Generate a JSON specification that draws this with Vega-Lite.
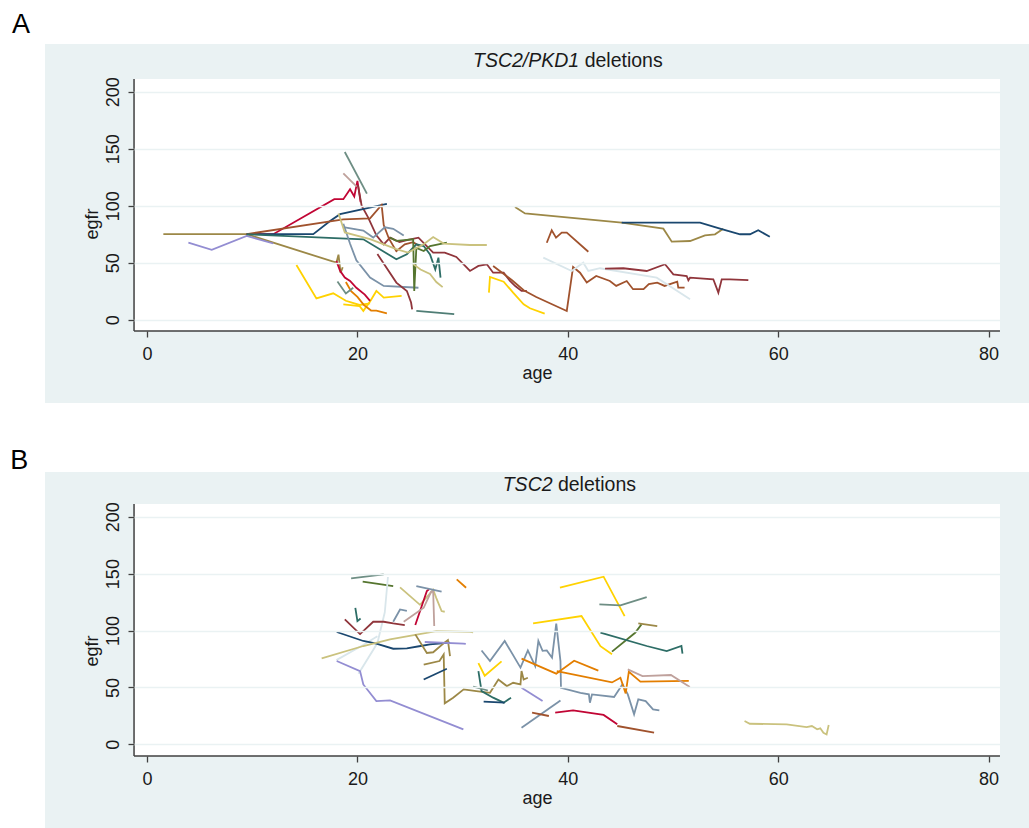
{
"$schema":"https://vega.github.io/schema/vega-lite/v6.json",
"background":"white",
"padding":{"left":10,"top":10,"right":0,"bottom":0},
"autosize":{"type":"pad"},
"bounds":"flush",
"spacing":69,
"resolve":{"scale":{"x":"independent","y":"independent","color":"shared"}},
"config":{"view":{"fill":"#eaf2f3","stroke":null},"font":"Liberation Sans"},
"datasets":{
"a":[
{"id":"a01","age":1.55,"egfr":75},{"id":"a01","age":9.47,"egfr":75},{"id":"a01","age":18.0,"egfr":50},{"id":"a01","age":18.2,"egfr":57},{"id":"a01","age":18.4,"egfr":41},{"id":"a01","age":18.6,"egfr":46},
{"id":"a02","age":3.93,"egfr":67.5},{"id":"a02","age":6.15,"egfr":61.2},{"id":"a02","age":9.47,"egfr":73.5},{"id":"a02","age":12.0,"egfr":66.8},
{"id":"a03","age":9.47,"egfr":75},{"id":"a03","age":12.0,"egfr":75},{"id":"a03","age":17.8,"egfr":105.7},{"id":"a03","age":18.66,"egfr":105.7},{"id":"a03","age":19.3,"egfr":114.4},{"id":"a03","age":19.7,"egfr":108},{"id":"a03","age":20.0,"egfr":121.7},{"id":"a03","age":20.3,"egfr":103},
{"id":"a04","age":20.05,"egfr":118},{"id":"a04","age":20.4,"egfr":100},{"id":"a04","age":21.0,"egfr":90},{"id":"a04","age":21.8,"egfr":74},{"id":"a04","age":22.5,"egfr":66},{"id":"a04","age":23.1,"egfr":71.9},{"id":"a04","age":24.0,"egfr":68},{"id":"a04","age":24.8,"egfr":70},{"id":"a04","age":25.8,"egfr":71.9},{"id":"a04","age":27.2,"egfr":58.8},{"id":"a04","age":28.3,"egfr":58.8},{"id":"a04","age":29.4,"egfr":55},{"id":"a04","age":30.4,"egfr":45.6},{"id":"a04","age":30.7,"egfr":42.7},{"id":"a04","age":31.5,"egfr":47.1},{"id":"a04","age":32.3,"egfr":48.6},{"id":"a04","age":32.9,"egfr":41.2},{"id":"a04","age":33.9,"egfr":41.2},{"id":"a04","age":34.5,"egfr":33.9},{"id":"a04","age":35.0,"egfr":29.5},{"id":"a04","age":35.6,"egfr":25.2},{"id":"a04","age":36.1,"egfr":25.2},
{"id":"a05","age":9.47,"egfr":75},{"id":"a05","age":15.8,"egfr":75},{"id":"a05","age":17.4,"egfr":86.6},{"id":"a05","age":18.35,"egfr":92.5},{"id":"a05","age":22.8,"egfr":101.6},
{"id":"a06","age":9.47,"egfr":75},{"id":"a06","age":18.66,"egfr":88},{"id":"a06","age":21.2,"egfr":88.9},{"id":"a06","age":22.3,"egfr":100.6},{"id":"a06","age":22.5,"egfr":83},{"id":"a06","age":23.0,"egfr":71},{"id":"a06","age":23.7,"egfr":60},{"id":"a06","age":24.5,"egfr":66},{"id":"a06","age":25.3,"egfr":68},{"id":"a06","age":26.0,"egfr":64},
{"id":"a07","age":9.47,"egfr":74.9},{"id":"a07","age":20.56,"egfr":70.5},{"id":"a07","age":23.7,"egfr":53},{"id":"a07","age":24.7,"egfr":57.4},{"id":"a07","age":25.6,"egfr":66.1},{"id":"a07","age":26.3,"egfr":64.6},{"id":"a07","age":26.9,"egfr":57.3},{"id":"a07","age":27.4,"egfr":44.1},{"id":"a07","age":27.7,"egfr":54.4},{"id":"a07","age":27.9,"egfr":36.9},
{"id":"a08","age":18.8,"egfr":147.1},{"id":"a08","age":20.9,"egfr":110.6},
{"id":"a09","age":18.66,"egfr":128.4},{"id":"a09","age":19.93,"egfr":116.7},
{"id":"a10","age":18.66,"egfr":84.1},{"id":"a10","age":19.3,"egfr":66.6},{"id":"a10","age":19.9,"egfr":52},{"id":"a10","age":21.2,"egfr":37},{"id":"a10","age":22.5,"egfr":29.6},{"id":"a10","age":25.8,"egfr":28},
{"id":"a11","age":18.66,"egfr":81.2},{"id":"a11","age":20.56,"egfr":78.2},{"id":"a11","age":21.5,"egfr":72},{"id":"a11","age":22.6,"egfr":81},{"id":"a11","age":23.4,"egfr":79.7},{"id":"a11","age":24.4,"egfr":73.8},
{"id":"a12","age":23.1,"egfr":72},{"id":"a12","age":23.7,"egfr":69.1},{"id":"a12","age":25.3,"egfr":70.5},{"id":"a12","age":25.4,"egfr":25.2},{"id":"a12","age":25.6,"egfr":63},{"id":"a12","age":26.3,"egfr":60.2},{"id":"a12","age":26.9,"egfr":64.6},{"id":"a12","age":28.5,"egfr":67.5},
{"id":"a13","age":21.9,"egfr":57.5},{"id":"a13","age":23.7,"egfr":32.5},{"id":"a13","age":24.7,"egfr":25.2},{"id":"a13","age":25.1,"egfr":15},{"id":"a13","age":25.2,"egfr":9.1},
{"id":"a14","age":18.2,"egfr":93.2},{"id":"a14","age":18.8,"egfr":76.5},{"id":"a14","age":21.2,"egfr":70.6},{"id":"a14","age":23.7,"egfr":61.8},{"id":"a14","age":24.8,"egfr":58.8},{"id":"a14","age":26.3,"egfr":66.1},{"id":"a14","age":27.2,"egfr":72.5},{"id":"a14","age":28.2,"egfr":66.7},{"id":"a14","age":30.7,"egfr":65.5},{"id":"a14","age":32.3,"egfr":65.5},
{"id":"a15","age":25.3,"egfr":48.7},{"id":"a15","age":26.0,"egfr":44},{"id":"a15","age":26.9,"egfr":40},{"id":"a15","age":27.5,"egfr":33},{"id":"a15","age":28.1,"egfr":28.5},
{"id":"a16","age":14.2,"egfr":47.9},{"id":"a16","age":16.1,"egfr":18.7},{"id":"a16","age":17.7,"egfr":23.1},{"id":"a16","age":18.9,"egfr":16.6},{"id":"a16","age":20.2,"egfr":12.9},{"id":"a16","age":21.2,"egfr":14.3},
{"id":"a17","age":18.66,"egfr":13.5},{"id":"a17","age":20.2,"egfr":12},{"id":"a17","age":20.56,"egfr":7.7},{"id":"a17","age":21.2,"egfr":16},{"id":"a17","age":21.8,"egfr":25.2},{"id":"a17","age":22.5,"egfr":19.4},{"id":"a17","age":24.2,"egfr":20.8},
{"id":"a18","age":18.9,"egfr":33},{"id":"a18","age":19.4,"egfr":25},{"id":"a18","age":20.0,"egfr":20},{"id":"a18","age":20.6,"egfr":13},{"id":"a18","age":21.3,"egfr":8},{"id":"a18","age":21.8,"egfr":8},{"id":"a18","age":22.8,"egfr":5.5},
{"id":"a19","age":18.0,"egfr":51.6},{"id":"a19","age":18.35,"egfr":42.8},{"id":"a19","age":18.8,"egfr":37},{"id":"a19","age":19.3,"egfr":34},{"id":"a19","age":19.9,"egfr":28},{"id":"a19","age":20.7,"egfr":22},{"id":"a19","age":21.2,"egfr":16.5},
{"id":"a20","age":25.6,"egfr":7.7},{"id":"a20","age":29.2,"egfr":4.8},
{"id":"a21","age":18.1,"egfr":33.5},{"id":"a21","age":18.9,"egfr":23},{"id":"a21","age":19.6,"egfr":28},
{"id":"a22","age":32.5,"egfr":23.7},{"id":"a22","age":32.6,"egfr":37.5},{"id":"a22","age":33.9,"egfr":33.3},{"id":"a22","age":34.8,"egfr":23.7},{"id":"a22","age":35.8,"egfr":13.5},{"id":"a22","age":36.4,"egfr":10},{"id":"a22","age":37.8,"egfr":5.3},
{"id":"a23","age":32.9,"egfr":47.1},{"id":"a23","age":34.7,"egfr":34.6},{"id":"a23","age":35.8,"egfr":25.8},{"id":"a23","age":37.0,"egfr":19.9},{"id":"a23","age":38.5,"egfr":13.5},{"id":"a23","age":39.9,"egfr":7.6},{"id":"a23","age":40.5,"egfr":46.2},{"id":"a23","age":41.16,"egfr":41.2},{"id":"a23","age":41.8,"egfr":32.5},{"id":"a23","age":42.7,"egfr":38.3},{"id":"a23","age":44.0,"egfr":33.9},{"id":"a23","age":44.6,"egfr":29.6},{"id":"a23","age":45.6,"egfr":33.9},{"id":"a23","age":46.2,"egfr":26.7},{"id":"a23","age":47.2,"egfr":26.7},{"id":"a23","age":47.7,"egfr":31.1},{"id":"a23","age":48.5,"egfr":32.5},{"id":"a23","age":49.2,"egfr":29.6},{"id":"a23","age":50.4,"egfr":33.3},{"id":"a23","age":50.5,"egfr":28.1},{"id":"a23","age":51.1,"egfr":28.1},
{"id":"a24","age":34.98,"egfr":98.9},{"id":"a24","age":35.93,"egfr":93.2},{"id":"a24","age":45.12,"egfr":85.1},{"id":"a24","age":49.08,"egfr":79.8},{"id":"a24","age":49.88,"egfr":68.4},{"id":"a24","age":51.62,"egfr":69},{"id":"a24","age":53.04,"egfr":74},{"id":"a24","age":53.99,"egfr":74.9},{"id":"a24","age":54.78,"egfr":79.8},
{"id":"a25","age":45.12,"egfr":85.1},{"id":"a25","age":52.57,"egfr":85.1},{"id":"a25","age":54.47,"egfr":79.8},{"id":"a25","age":56.37,"egfr":74.9},{"id":"a25","age":57.32,"egfr":74.9},{"id":"a25","age":58.1,"egfr":78.4},{"id":"a25","age":59.2,"egfr":72.8},
{"id":"a26","age":38.0,"egfr":67.5},{"id":"a26","age":38.47,"egfr":78.4},{"id":"a26","age":38.88,"egfr":71.9},{"id":"a26","age":39.42,"egfr":76.3},{"id":"a26","age":39.9,"egfr":76.3},{"id":"a26","age":41.95,"egfr":59.6},
{"id":"a27","age":37.67,"egfr":54.4},{"id":"a27","age":40.37,"egfr":42.7},{"id":"a27","age":41.47,"egfr":50},{"id":"a27","age":41.95,"egfr":42.7},{"id":"a27","age":43.06,"egfr":45.1},{"id":"a27","age":48.45,"egfr":36.8},{"id":"a27","age":51.62,"egfr":17.9},
{"id":"a28","age":43.54,"egfr":44.7},{"id":"a28","age":45.28,"egfr":45.1},{"id":"a28","age":47.5,"egfr":42.7},{"id":"a28","age":49.24,"egfr":48.6},{"id":"a28","age":50.03,"egfr":39.8},{"id":"a28","age":51.3,"egfr":38.3},{"id":"a28","age":51.46,"egfr":34.6},{"id":"a28","age":51.62,"egfr":36.8},{"id":"a28","age":52.57,"egfr":36.3},{"id":"a28","age":53.83,"egfr":35.4},{"id":"a28","age":54.31,"egfr":23.7},{"id":"a28","age":54.63,"egfr":35.4},{"id":"a28","age":55.42,"egfr":35.4},{"id":"a28","age":57.16,"egfr":34.6}
],
"b":[
{"id":"b01","age":19.4,"egfr":145.8},{"id":"b01","age":22.5,"egfr":149.3},
{"id":"b02","age":20.5,"egfr":143},{"id":"b02","age":21.8,"egfr":141.3},{"id":"b02","age":23.4,"egfr":139.1},
{"id":"b03","age":20.1,"egfr":62},{"id":"b03","age":21.9,"egfr":89},{"id":"b03","age":22.6,"egfr":116},{"id":"b03","age":22.9,"egfr":147},
{"id":"b04","age":18.0,"egfr":74},{"id":"b04","age":20.5,"egfr":87},{"id":"b04","age":21.9,"egfr":95},
{"id":"b05","age":18.8,"egfr":109.8},{"id":"b05","age":20.25,"egfr":96.9},{"id":"b05","age":21.5,"egfr":107.7},{"id":"b05","age":22.5,"egfr":107.7},{"id":"b05","age":23.4,"egfr":106.2},{"id":"b05","age":24.5,"egfr":104.8},
{"id":"b06","age":19.8,"egfr":120},{"id":"b06","age":20.0,"egfr":108.3},{"id":"b06","age":20.3,"egfr":110.6},
{"id":"b07","age":18.03,"egfr":98.7},{"id":"b07","age":20.56,"egfr":90.8},{"id":"b07","age":21.8,"egfr":88.5},{"id":"b07","age":23.4,"egfr":84},{"id":"b07","age":24.7,"egfr":84.3},{"id":"b07","age":26.0,"egfr":86.4},{"id":"b07","age":26.9,"egfr":87.8},{"id":"b07","age":28.8,"egfr":89.3},
{"id":"b08","age":16.6,"egfr":75.5},{"id":"b08","age":20.56,"egfr":86.4},{"id":"b08","age":23.1,"egfr":92.2},{"id":"b08","age":27.5,"egfr":99.5},{"id":"b08","age":30.7,"egfr":98.9},{"id":"b08","age":31.0,"egfr":98.5},
{"id":"b09","age":18.03,"egfr":73.2},{"id":"b09","age":20.25,"egfr":64.3},{"id":"b09","age":20.56,"egfr":52.6},{"id":"b09","age":21.8,"egfr":38},{"id":"b09","age":23.1,"egfr":38.6},{"id":"b09","age":30.07,"egfr":13.1},
{"id":"b10","age":25.5,"egfr":96.6},{"id":"b10","age":26.6,"egfr":80.3},{"id":"b10","age":27.2,"egfr":80.9},{"id":"b10","age":28.3,"egfr":89.6},{"id":"b10","age":28.6,"egfr":91.6},{"id":"b10","age":28.8,"egfr":77.5},
{"id":"b11","age":26.3,"egfr":70},{"id":"b11","age":27.8,"egfr":73.2},{"id":"b11","age":28.2,"egfr":79},{"id":"b11","age":28.3,"egfr":36},{"id":"b11","age":29.1,"egfr":41},{"id":"b11","age":30.1,"egfr":48.3},{"id":"b11","age":31.3,"egfr":46.8},{"id":"b11","age":32.6,"egfr":45.3},{"id":"b11","age":33.4,"egfr":57},{"id":"b11","age":34.2,"egfr":51.2},{"id":"b11","age":34.8,"egfr":54.1},{"id":"b11","age":35.5,"egfr":52.7},{"id":"b11","age":35.6,"egfr":64.4},{"id":"b11","age":35.8,"egfr":57},{"id":"b11","age":36.2,"egfr":58.5},
{"id":"b12","age":26.3,"egfr":57},{"id":"b12","age":28.5,"egfr":66.4},
{"id":"b13","age":26.4,"egfr":89.9},{"id":"b13","age":30.07,"egfr":88.5},{"id":"b13","age":30.3,"egfr":88.2},
{"id":"b14","age":24.05,"egfr":137.9},{"id":"b14","age":25.95,"egfr":122.6},{"id":"b14","age":27.2,"egfr":135.8},{"id":"b14","age":27.5,"egfr":128.5},{"id":"b14","age":28.0,"egfr":117.1},{"id":"b14","age":28.3,"egfr":116.5},
{"id":"b15","age":23.4,"egfr":107.7},{"id":"b15","age":24.05,"egfr":118.5},{"id":"b15","age":24.7,"egfr":117.3},
{"id":"b16","age":25.5,"egfr":104.8},{"id":"b16","age":26.6,"egfr":134.7},{"id":"b16","age":26.8,"egfr":136.2},
{"id":"b17","age":24.4,"egfr":107.7},{"id":"b17","age":26.3,"egfr":120},{"id":"b17","age":27.0,"egfr":134},{"id":"b17","age":27.2,"egfr":134.5},{"id":"b17","age":27.3,"egfr":104},
{"id":"b18","age":25.6,"egfr":139.1},{"id":"b18","age":28.0,"egfr":134.1},
{"id":"b19","age":29.44,"egfr":145},{"id":"b19","age":30.33,"egfr":137.6},
{"id":"b20","age":39.25,"egfr":137.6},{"id":"b20","age":43.4,"egfr":147.3},{"id":"b20","age":45.4,"egfr":112.7},
{"id":"b21","age":43.0,"egfr":123},{"id":"b21","age":45.0,"egfr":122.1},{"id":"b21","age":47.5,"egfr":129.4},
{"id":"b22","age":36.7,"egfr":106.2},{"id":"b22","age":41.3,"egfr":112.7},{"id":"b22","age":43.1,"egfr":86.3},{"id":"b22","age":44.2,"egfr":79.1},
{"id":"b23","age":44.2,"egfr":81.5},{"id":"b23","age":46.4,"egfr":98},{"id":"b23","age":47.0,"egfr":105.4},
{"id":"b24","age":46.7,"egfr":106.2},{"id":"b24","age":48.5,"egfr":103.8},
{"id":"b25","age":43.1,"egfr":98.1},{"id":"b25","age":47.5,"egfr":86.4},{"id":"b25","age":49.4,"egfr":82},{"id":"b25","age":50.8,"egfr":86.4},{"id":"b25","age":50.9,"egfr":79.6},
{"id":"b26","age":31.8,"egfr":82.5},{"id":"b26","age":32.6,"egfr":73.2},{"id":"b26","age":34.0,"egfr":90.8},{"id":"b26","age":35.5,"egfr":67.4},{"id":"b26","age":36.2,"egfr":82.5},{"id":"b26","age":36.9,"egfr":68.8},{"id":"b26","age":37.2,"egfr":90.8},{"id":"b26","age":37.6,"egfr":82.1},{"id":"b26","age":38.0,"egfr":82.5},{"id":"b26","age":38.5,"egfr":76.1},{"id":"b26","age":38.9,"egfr":106},{"id":"b26","age":39.3,"egfr":73.2},{"id":"b26","age":39.35,"egfr":49.7},{"id":"b26","age":41.2,"egfr":45.3},{"id":"b26","age":42.0,"egfr":43.9},{"id":"b26","age":42.1,"egfr":36.6},{"id":"b26","age":42.3,"egfr":43.9},{"id":"b26","age":44.4,"egfr":41.6},{"id":"b26","age":45.2,"egfr":52.7},{"id":"b26","age":45.7,"egfr":43.9},{"id":"b26","age":46.3,"egfr":26.4},{"id":"b26","age":46.7,"egfr":39.5},{"id":"b26","age":47.4,"egfr":38},{"id":"b26","age":48.1,"egfr":30.7},{"id":"b26","age":48.7,"egfr":29.9},
{"id":"b27","age":35.6,"egfr":75.3},{"id":"b27","age":38.9,"egfr":62.1},{"id":"b27","age":40.6,"egfr":73.5},{"id":"b27","age":42.9,"egfr":64.7},
{"id":"b28","age":38.95,"egfr":64.4},{"id":"b28","age":44.2,"egfr":54.4},{"id":"b28","age":45.0,"egfr":58.5},{"id":"b28","age":45.5,"egfr":44.8},{"id":"b28","age":45.8,"egfr":63.8},{"id":"b28","age":46.9,"egfr":55.1},{"id":"b28","age":51.5,"egfr":55.7},
{"id":"b29","age":31.5,"egfr":71.4},{"id":"b29","age":32.1,"egfr":60.3},{"id":"b29","age":33.7,"egfr":72.9},
{"id":"b30","age":31.5,"egfr":64.4},{"id":"b30","age":31.8,"egfr":46.8},{"id":"b30","age":32.9,"egfr":41},{"id":"b30","age":33.9,"egfr":36.6},{"id":"b30","age":34.6,"egfr":41},
{"id":"b31","age":32.0,"egfr":37.5},{"id":"b31","age":34.0,"egfr":36.6},
{"id":"b32","age":31.0,"egfr":50.8},{"id":"b32","age":32.4,"egfr":47.3},
{"id":"b33","age":35.6,"egfr":49.7},{"id":"b33","age":37.6,"egfr":38},
{"id":"b34","age":35.6,"egfr":14.5},{"id":"b34","age":39.3,"egfr":38.6},
{"id":"b35","age":36.6,"egfr":27.8},{"id":"b35","age":38.2,"egfr":24.9},
{"id":"b36","age":38.8,"egfr":27.8},{"id":"b36","age":40.5,"egfr":29.9},{"id":"b36","age":43.4,"egfr":25.8},{"id":"b36","age":44.7,"egfr":17.6},
{"id":"b37","age":44.7,"egfr":16.1},{"id":"b37","age":48.2,"egfr":10.3},
{"id":"b38","age":45.7,"egfr":65.9},{"id":"b38","age":47.1,"egfr":60},{"id":"b38","age":49.8,"egfr":60.9},{"id":"b38","age":51.6,"egfr":50.3},
{"id":"b39","age":56.8,"egfr":20.5},{"id":"b39","age":57.3,"egfr":18.1},{"id":"b39","age":60.8,"egfr":17.5},{"id":"b39","age":62.7,"egfr":15.2},{"id":"b39","age":63.2,"egfr":16.1},{"id":"b39","age":63.7,"egfr":13.2},{"id":"b39","age":64.0,"egfr":14.1},{"id":"b39","age":64.3,"egfr":10.2},{"id":"b39","age":64.6,"egfr":8.7},{"id":"b39","age":64.8,"egfr":17}
]
},
"vconcat":[
{
"width":984,"height":359,
"layer":[
{"data":{"values":[{}]},"mark":{"type":"rect","fill":"white","stroke":null},
"encoding":{
"x":{"datum":-1.236,"type":"quantitative","scale":{"domain":[-9.7,83.84],"nice":false,"zero":false},"axis":{"values":[0,20,40,60,80],"offset":-72,"domain":false,"grid":false,"tickSize":6,"tickWidth":1.3,"tickColor":"#404040","labelFont":"Liberation Sans","labelFontSize":18,"labelColor":"#1a1a1a","labelPadding":8,"labelFlush":false,"labelOverlap":false,"title":"age","titleFont":"Liberation Sans","titleFontSize":18,"titleFontWeight":"normal","titleColor":"#1a1a1a","titlePadding":1,"zindex":1}},
"x2":{"datum":81.08},
"y":{"datum":-9.9,"type":"quantitative","scale":{"domain":[-73.1,241.8],"nice":false,"zero":false},"axis":{"values":[0,50,100,150,200],"offset":-89,"domain":false,"grid":true,"gridColor":"#eaf2f3","gridWidth":1.5,"tickSize":6,"tickWidth":1.3,"tickColor":"#404040","labelFont":"Liberation Sans","labelFontSize":18,"labelColor":"#1a1a1a","labelAngle":270,"labelAlign":"center","labelBaseline":"bottom","labelPadding":6,"labelFlush":false,"labelOverlap":false,"title":"egfr","titleFont":"Liberation Sans","titleFontSize":18,"titleFontWeight":"normal","titleColor":"#1a1a1a","titlePadding":3,"zindex":1}},
"y2":{"datum":211.1}}},
{"data":{"values":[{}]},"mark":{"type":"rule","color":"#404040","strokeWidth":1.5},
"encoding":{"x":{"datum":-1.236,"type":"quantitative"},"y":{"datum":-9.9,"type":"quantitative"},"y2":{"datum":211.1}}},
{"data":{"values":[{}]},"mark":{"type":"rule","color":"#404040","strokeWidth":1.5},
"encoding":{"x":{"datum":-1.236,"type":"quantitative"},"x2":{"datum":81.08},"y":{"datum":-9.9,"type":"quantitative"}}},
{"data":{"name":"a"},"mark":{"type":"line","strokeWidth":1.8},
"encoding":{"x":{"field":"age","type":"quantitative"},"y":{"field":"egfr","type":"quantitative"},
"color":{"field":"id","type":"nominal","legend":null,"scale":{"domain":["a01","a02","a03","a04","a05","a06","a07","a08","a09","a10","a11","a12","a13","a14","a15","a16","a17","a18","a19","a20","a21","a22","a23","a24","a25","a26","a27","a28","b01","b02","b03","b04","b05","b06","b07","b08","b09","b10","b11","b12","b13","b14","b15","b16","b17","b18","b19","b20","b21","b22","b23","b24","b25","b26","b27","b28","b29","b30","b31","b32","b33","b34","b35","b36","b37","b38","b39"],"range":["#9c8847","#938dd2","#c10534","#90353b","#1a476f","#a0522d","#2d6d66","#6e8e84","#bfa19c","#7b92a8","#7b92a8","#55752f","#90353b","#cac27e","#cac27e","#ffd200","#ffd200","#e37e00","#c10534","#4f7d75","#6e8e84","#ffd200","#a0522d","#9c8847","#1a476f","#a0522d","#d9e6eb","#90353b","#6e8e84","#55752f","#d9e6eb","#d9e6eb","#90353b","#2d6d66","#1a476f","#cac27e","#938dd2","#9c8847","#9c8847","#1a476f","#938dd2","#cac27e","#7b92a8","#c10534","#bfa19c","#7b92a8","#e37e00","#ffd200","#6e8e84","#ffd200","#55752f","#9c8847","#2d6d66","#7b92a8","#e37e00","#e37e00","#ffd200","#2d6d66","#1a476f","#6e8e84","#938dd2","#7b92a8","#a0522d","#c10534","#a0522d","#bfa19c","#cac27e"]}}}},
{"data":{"values":[{}]},"mark":{"type":"text","text":"TSC2/PKD1","fontStyle":"italic","align":"right","baseline":"alphabetic","fontSize":19.5,"font":"Liberation Sans","color":"#1a1a1a"},
"encoding":{"x":{"datum":41.08,"type":"quantitative"},"y":{"datum":221.2,"type":"quantitative"}}},
{"data":{"values":[{}]},"mark":{"type":"text","text":"deletions","align":"left","baseline":"alphabetic","fontSize":19.5,"font":"Liberation Sans","color":"#1a1a1a"},
"encoding":{"x":{"datum":41.6,"type":"quantitative"},"y":{"datum":221.2,"type":"quantitative"}}},
{"data":{"values":[{}]},"mark":{"type":"text","text":"A","align":"left","baseline":"alphabetic","fontSize":27,"font":"Liberation Sans","color":"#000000"},
"encoding":{"x":{"datum":-12.83,"type":"quantitative"},"y":{"datum":251.75,"type":"quantitative"}}}
]
},
{
"width":984,"height":357,
"layer":[
{"data":{"values":[{}]},"mark":{"type":"rect","fill":"white","stroke":null},
"encoding":{
"x":{"datum":-1.236,"type":"quantitative","scale":{"domain":[-9.7,83.84],"nice":false,"zero":false},"axis":{"values":[0,20,40,60,80],"offset":-73,"domain":false,"grid":false,"tickSize":6,"tickWidth":1.3,"tickColor":"#404040","labelFont":"Liberation Sans","labelFontSize":18,"labelColor":"#1a1a1a","labelPadding":8,"labelFlush":false,"labelOverlap":false,"title":"age","titleFont":"Liberation Sans","titleFontSize":18,"titleFontWeight":"normal","titleColor":"#1a1a1a","titlePadding":1,"zindex":1}},
"x2":{"datum":81.08},
"y":{"datum":-10.3,"type":"quantitative","scale":{"domain":[-74.4,239.3],"nice":false,"zero":false},"axis":{"values":[0,50,100,150,200],"offset":-89,"domain":false,"grid":true,"gridColor":"#eaf2f3","gridWidth":1.5,"tickSize":6,"tickWidth":1.3,"tickColor":"#404040","labelFont":"Liberation Sans","labelFontSize":18,"labelColor":"#1a1a1a","labelAngle":270,"labelAlign":"center","labelBaseline":"bottom","labelPadding":6,"labelFlush":false,"labelOverlap":false,"title":"egfr","titleFont":"Liberation Sans","titleFontSize":18,"titleFontWeight":"normal","titleColor":"#1a1a1a","titlePadding":3,"zindex":1}},
"y2":{"datum":211.2}}},
{"data":{"values":[{}]},"mark":{"type":"rule","color":"#404040","strokeWidth":1.5},
"encoding":{"x":{"datum":-1.236,"type":"quantitative"},"y":{"datum":-10.3,"type":"quantitative"},"y2":{"datum":211.2}}},
{"data":{"values":[{}]},"mark":{"type":"rule","color":"#404040","strokeWidth":1.5},
"encoding":{"x":{"datum":-1.236,"type":"quantitative"},"x2":{"datum":81.08},"y":{"datum":-10.3,"type":"quantitative"}}},
{"data":{"name":"b"},"mark":{"type":"line","strokeWidth":1.8},
"encoding":{"x":{"field":"age","type":"quantitative"},"y":{"field":"egfr","type":"quantitative"},
"color":{"field":"id","type":"nominal","legend":null,"scale":{"domain":["a01","a02","a03","a04","a05","a06","a07","a08","a09","a10","a11","a12","a13","a14","a15","a16","a17","a18","a19","a20","a21","a22","a23","a24","a25","a26","a27","a28","b01","b02","b03","b04","b05","b06","b07","b08","b09","b10","b11","b12","b13","b14","b15","b16","b17","b18","b19","b20","b21","b22","b23","b24","b25","b26","b27","b28","b29","b30","b31","b32","b33","b34","b35","b36","b37","b38","b39"],"range":["#9c8847","#938dd2","#c10534","#90353b","#1a476f","#a0522d","#2d6d66","#6e8e84","#bfa19c","#7b92a8","#7b92a8","#55752f","#90353b","#cac27e","#cac27e","#ffd200","#ffd200","#e37e00","#c10534","#4f7d75","#6e8e84","#ffd200","#a0522d","#9c8847","#1a476f","#a0522d","#d9e6eb","#90353b","#6e8e84","#55752f","#d9e6eb","#d9e6eb","#90353b","#2d6d66","#1a476f","#cac27e","#938dd2","#9c8847","#9c8847","#1a476f","#938dd2","#cac27e","#7b92a8","#c10534","#bfa19c","#7b92a8","#e37e00","#ffd200","#6e8e84","#ffd200","#55752f","#9c8847","#2d6d66","#7b92a8","#e37e00","#e37e00","#ffd200","#2d6d66","#1a476f","#6e8e84","#938dd2","#7b92a8","#a0522d","#c10534","#a0522d","#bfa19c","#cac27e"]}}}},
{"data":{"values":[{}]},"mark":{"type":"text","text":"TSC2","fontStyle":"italic","align":"right","baseline":"alphabetic","fontSize":19.5,"font":"Liberation Sans","color":"#1a1a1a"},
"encoding":{"x":{"datum":38.55,"type":"quantitative"},"y":{"datum":222.6,"type":"quantitative"}}},
{"data":{"values":[{}]},"mark":{"type":"text","text":"deletions","align":"left","baseline":"alphabetic","fontSize":19.5,"font":"Liberation Sans","color":"#1a1a1a"},
"encoding":{"x":{"datum":39.06,"type":"quantitative"},"y":{"datum":222.6,"type":"quantitative"}}},
{"data":{"values":[{}]},"mark":{"type":"text","text":"B","align":"left","baseline":"alphabetic","fontSize":27,"font":"Liberation Sans","color":"#000000"},
"encoding":{"x":{"datum":-13.0,"type":"quantitative"},"y":{"datum":241.65,"type":"quantitative"}}}
]
}
]
}
